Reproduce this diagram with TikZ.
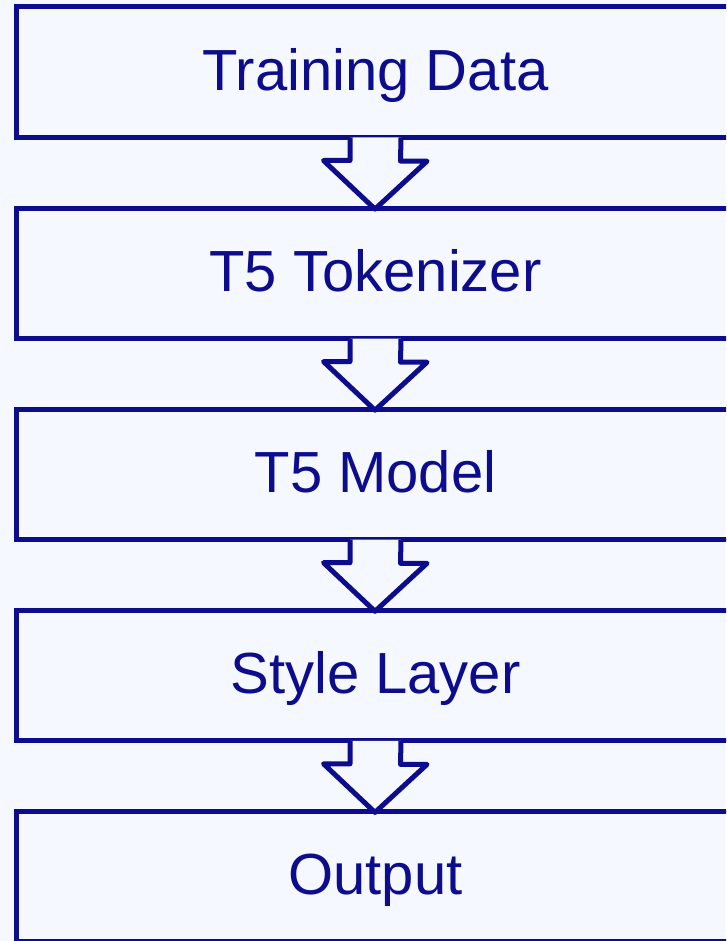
\documentclass[tikz,border=0pt]{standalone}
\usepackage{fontspec}
\setmainfont{Liberation Sans}
\definecolor{navy}{RGB}{12,12,140}
\definecolor{bg}{RGB}{245,248,255}
\tikzset{
  stagebox/.style={draw=navy, line width=5pt, rectangle, outer sep=0pt, minimum width=719pt, minimum height=130.5pt, inner sep=0pt, text=navy, text height=41.5pt, text depth=5.5pt, font=\fontsize{58}{62}\selectfont},
  blockarrow/.style={draw=navy, fill=bg, line width=5pt, line join=round}
}
\begin{document}
\begin{tikzpicture}[x=1pt,y=-1pt]
\fill[bg] (0,0) rectangle (726,941);
\useasboundingbox (0,0) rectangle (726,941);
\begin{scope}
\clip (0,0) rectangle (726,941);
\node[stagebox] (a) at (375.5,72.25) {Training Data};
\node[stagebox] (b) at (375.5,273.35) {T5 Tokenizer};
\node[stagebox] (c) at (375.5,474.45) {T5 Model};
\node[stagebox] (d) at (375.5,675.55) {Style Layer};
\node[stagebox] (e) at (375.5,876.65) {Output};
\foreach \u/\v in {a/b,b/c,c/d,d/e}{
  \filldraw[blockarrow] ([xshift=-25.5pt]\u.south) -- ++(0,23) -- ++(-26.5,0) -- ([xshift=-0.5pt,yshift=-1pt]\v.north) -- ++(52,-48) -- ++(-26.5,0) -- ([xshift=25.5pt]\u.south);
}
\end{scope}
\end{tikzpicture}
\end{document}
